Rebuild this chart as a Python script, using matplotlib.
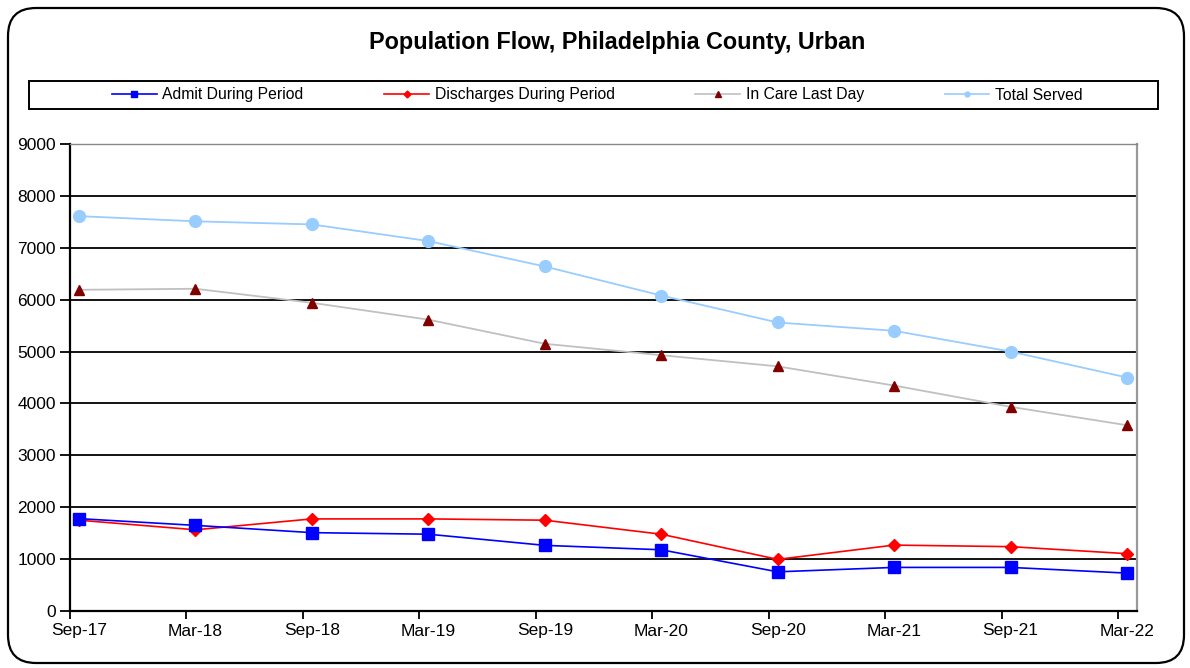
import matplotlib
matplotlib.use("Agg")
import matplotlib.pyplot as plt
from matplotlib.patches import FancyBboxPatch, Rectangle
from matplotlib.lines import Line2D
from matplotlib.transforms import IdentityTransform

periods = ["Sep-17", "Mar-18", "Sep-18", "Mar-19", "Sep-19",
           "Mar-20", "Sep-20", "Mar-21", "Sep-21", "Mar-22"]
admit = [1780, 1650, 1510, 1480, 1265, 1180, 755, 840, 840, 730]
discharges = [1750, 1565, 1775, 1775, 1750, 1480, 995, 1270, 1240, 1105]
in_care = [6190, 6210, 5940, 5615, 5150, 4930, 4715, 4345, 3935, 3580]
total_served = [7610, 7510, 7450, 7130, 6640, 6080, 5560, 5400, 5000, 4500]

plt.rcParams['font.family'] = ['Liberation Sans', 'DejaVu Sans']

W, H = 1190, 668
fig = plt.figure(figsize=(W / 100, H / 100), dpi=100, facecolor='white')

# outer rounded frame
frame = FancyBboxPatch((8, 5), 1176, 655, boxstyle="round,pad=0,rounding_size=28",
                       transform=IdentityTransform(), facecolor='none',
                       edgecolor='black', linewidth=1.6, zorder=0)
fig.patches.append(frame)

ax = fig.add_axes([70 / W, 1 - 611 / H, (1137 - 70) / W, (611 - 144) / H])
ax.set_facecolor('none')
x = list(range(len(periods)))

l4, = ax.plot(x, total_served, color='#99CCFF', lw=1.3, marker='o', ms=8.5,
              mec='#99CCFF', mfc='#99CCFF', zorder=3)
l3, = ax.plot(x, in_care, color='#C0C0C0', lw=1.3, marker='^', ms=7.5,
              mec='#800000', mfc='#800000', zorder=3)
l2, = ax.plot(x, discharges, color='#FF0000', lw=1.2, marker='D', ms=6,
              mec='#FF0000', mfc='#FF0000', zorder=4)
l1, = ax.plot(x, admit, color='#0000FF', lw=1.2, marker='s', ms=8,
              mec='#0000FF', mfc='#0000FF', zorder=4)

off = 9 / 116.4
ax.set_xlim(-off, 9 + (1137 - 1127) / 116.4)
ax.set_ylim(0, 9000)
ax.set_yticks(range(0, 9001, 1000))
ax.yaxis.grid(True, color='black', lw=1.3)
ax.set_axisbelow(True)

ax.set_xticks(x)
ax.set_xticklabels(periods, fontsize=12.5)
ax.tick_params(axis='x', which='major', length=0, pad=9)
ax.set_xticks([i - off for i in x], minor=True)
ax.tick_params(axis='x', which='minor', length=6, width=1.3, color='black')
ax.tick_params(axis='y', length=7, width=1.3, labelsize=12.5, pad=3)

for s in ['left', 'bottom']:
    ax.spines[s].set_color('black')
    ax.spines[s].set_linewidth(1.6)
ax.spines['right'].set_color('#999999')
ax.spines['right'].set_linewidth(1.6)
ax.spines['top'].set_color('#888888')
ax.spines['top'].set_linewidth(1.0)

fig.text(617 / W, 1 - 43 / H, "Population Flow, Philadelphia County, Urban",
         ha='center', va='center', fontsize=16.8, fontweight='bold')

# legend box
fig.patches.append(Rectangle((29 / W, 1 - 109 / H), (1158 - 29) / W, 28 / H,
                             transform=fig.transFigure, facecolor='none',
                             edgecolor='black', linewidth=1.4, zorder=1))

labels = ["Admit During Period", "Discharges During Period",
          "In Care Last Day", "Total Served"]
handles = [
    Line2D([], [], color='#0000FF', lw=1.2, marker='s', ms=4, mfc='#0000FF', mec='#0000FF'),
    Line2D([], [], color='#FF0000', lw=1.2, marker='D', ms=3.5, mfc='#FF0000', mec='#FF0000'),
    Line2D([], [], color='#C0C0C0', lw=1.2, marker='^', ms=4.5, mfc='#800000', mec='#800000'),
    Line2D([], [], color='#99CCFF', lw=1.2, marker='o', ms=3.5, mfc='#99CCFF', mec='#99CCFF'),
]
leg = fig.legend(handles, labels, loc='center left', bbox_to_anchor=(112 / W, 1 - 95 / H),
                 ncol=4, frameon=False, fontsize=11.3, handlelength=2.85,
                 handletextpad=0.35, columnspacing=5.15, borderpad=0, borderaxespad=0)
leg.set_zorder(2)

fig.savefig("out.png", dpi=100)
